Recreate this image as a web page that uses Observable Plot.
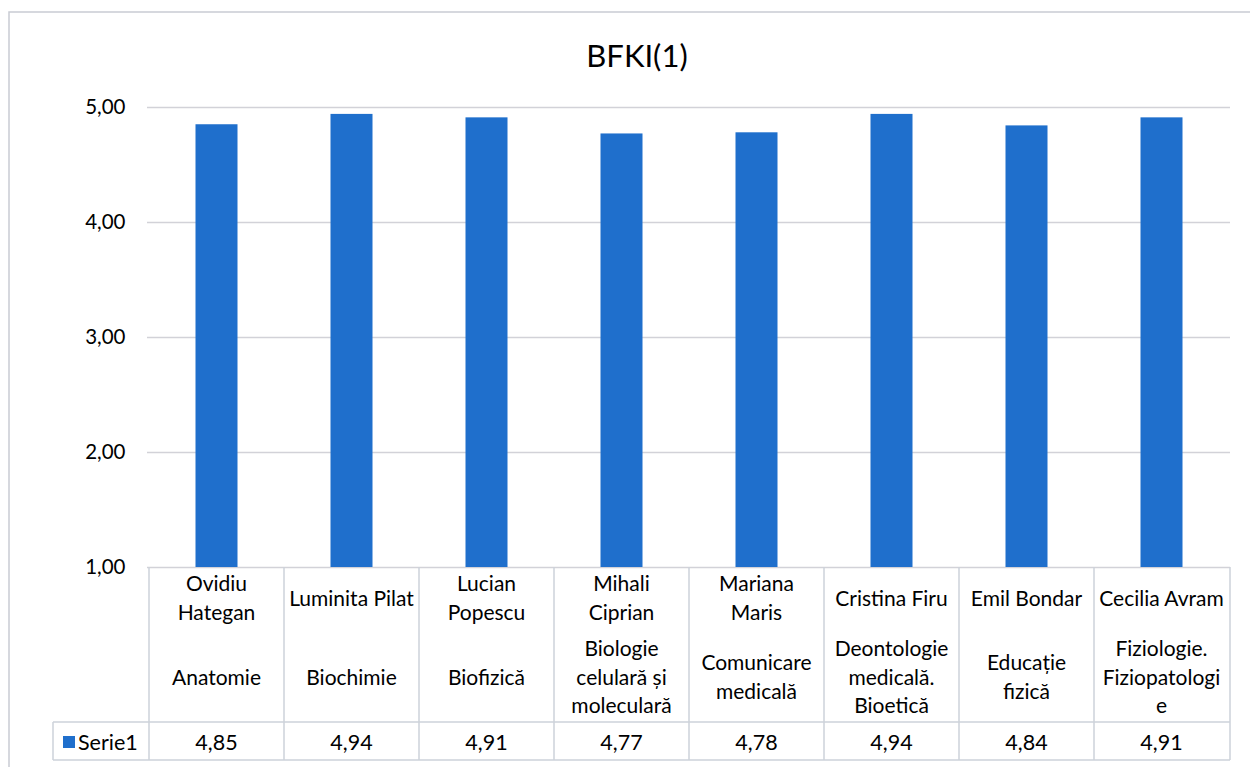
<!DOCTYPE html>
<html>
<head>
<meta charset="utf-8">
<script src="https://cdn.jsdelivr.net/npm/d3@7"></script>
<script src="https://cdn.jsdelivr.net/npm/@observablehq/plot@0.6"></script>
<style>
  html, body { margin: 0; padding: 0; background: #fff; overflow: hidden; }
  #chart { width: 1250px; height: 767px; }
  svg { font-family: Lato, "Open Sans", sans-serif; }
</style>
</head>
<body>
<div id="chart"></div>
<script>
const title = "BFKI(1)";
const seriesName = "Serie1";
const names = [
  ["Ovidiu", "Hategan"],
  ["Luminita Pilat"],
  ["Lucian", "Popescu"],
  ["Mihali", "Ciprian"],
  ["Mariana", "Maris"],
  ["Cristina Firu"],
  ["Emil Bondar"],
  ["Cecilia Avram"]
];
const subjects = [
  ["Anatomie"],
  ["Biochimie"],
  ["Biofizică"],
  ["Biologie", "celulară și", "moleculară"],
  ["Comunicare", "medicală"],
  ["Deontologie", "medicală.", "Bioetică"],
  ["Educație", "fizică"],
  ["Fiziologie.", "Fiziopatologi", "e"]
];
const values = [4.85, 4.94, 4.91, 4.77, 4.78, 4.94, 4.84, 4.91];
const yTicks = [1, 2, 3, 4, 5];

const categories = names.map((n, i) => n.join(" ") + "|" + subjects[i].join(" "));
const data = categories.map((c, i) => ({cat: c, value: values[i]}));
const fmt = v => v.toFixed(2).replace(".", ",");

const barColor = "#1f6fcc";
const lineColor = "#cdd2da";
const fontFam = "Lato, 'Open Sans', sans-serif";

function extras(index, scales, vals, dims) {
  const x = scales.x, y = scales.y;
  const {width, height, marginLeft, marginRight} = dims;
  const left = marginLeft, right = width - marginRight;
  const bw = typeof x.bandwidth === "function" ? x.bandwidth() : (right - left) / categories.length;
  const g = d3.create("svg:g").attr("font-family", fontFam).attr("fill", "#000").attr("text-anchor", "middle");
  const y0 = y(1);
  const rowTop = y0 + 155;
  const rowBot = y0 + 193;
  const tableLeft = 53;
  // outer chart border
  g.append("path").attr("d", `M9,${height + 5}V12H${width + 5}`)
    .attr("fill", "none").attr("stroke", "#c9ccd3").attr("stroke-width", 1.5);
  // title
  g.append("text").attr("x", 637).attr("y", 55)
    .attr("dominant-baseline", "central").attr("font-size", 31).text(title);
  // table lines
  const lines = g.append("g").attr("stroke", lineColor).attr("stroke-width", 1.5).attr("fill", "none");
  categories.forEach((c) => {
    lines.append("line").attr("x1", x(c)).attr("x2", x(c)).attr("y1", y0).attr("y2", rowBot);
  });
  lines.append("line").attr("x1", right).attr("x2", right).attr("y1", y0).attr("y2", rowBot);
  lines.append("line").attr("x1", tableLeft).attr("x2", tableLeft).attr("y1", rowTop).attr("y2", rowBot);
  lines.append("line").attr("x1", tableLeft).attr("x2", right).attr("y1", rowTop).attr("y2", rowTop);
  lines.append("line").attr("x1", tableLeft).attr("x2", right).attr("y1", rowBot).attr("y2", rowBot);
  // header texts
  const lh = 28.5;
  const nameCenter = y0 + 30;
  const subjCenter = y0 + 109;
  const fs = 21;
  categories.forEach((c, i) => {
    const cx = x(c) + bw / 2;
    names[i].forEach((t, j) => {
      g.append("text").attr("x", cx).attr("y", nameCenter + (j - (names[i].length - 1) / 2) * lh)
        .attr("dominant-baseline", "central").attr("font-size", fs).text(t);
    });
    subjects[i].forEach((t, j) => {
      g.append("text").attr("x", cx).attr("y", subjCenter + (j - (subjects[i].length - 1) / 2) * lh)
        .attr("dominant-baseline", "central").attr("font-size", fs).text(t);
    });
    g.append("text").attr("x", cx).attr("y", (rowTop + rowBot) / 2 + 1)
      .attr("dominant-baseline", "central").attr("font-size", 21.5).text(fmt(values[i]));
  });
  // legend key
  const ly = (rowTop + rowBot) / 2 + 1;
  g.append("rect").attr("x", 63).attr("y", ly - 6).attr("width", 12).attr("height", 12).attr("fill", barColor);
  g.append("text").attr("x", 78).attr("y", ly).attr("text-anchor", "start").attr("dominant-baseline", "central")
    .attr("font-size", 21.5).text(seriesName);
  return g.node();
}

const chart = Plot.plot({
  width: 1250,
  height: 767,
  marginLeft: 147,
  marginRight: 20,
  marginTop: 107,
  marginBottom: 200,
  style: {fontFamily: fontFam, background: "#fff"},
  x: {domain: categories, padding: 0, axis: null},
  y: {domain: [1, 5], ticks: yTicks, tickFormat: fmt, label: null},
  marks: [
    Plot.ruleY(yTicks, {stroke: "#d2d2d8", strokeWidth: 1.5}),
    Plot.axisY({ticks: yTicks, tickFormat: fmt, tickSize: 0, tickPadding: 22, fontSize: 20.5, label: null, stroke: "none"}),
    Plot.barY(data, {x: "cat", y1: 1, y2: "value", fill: barColor, insetLeft: 46.5, insetRight: 46.5}),
    extras
  ]
});
document.getElementById("chart").appendChild(chart);
</script>
</body>
</html>
